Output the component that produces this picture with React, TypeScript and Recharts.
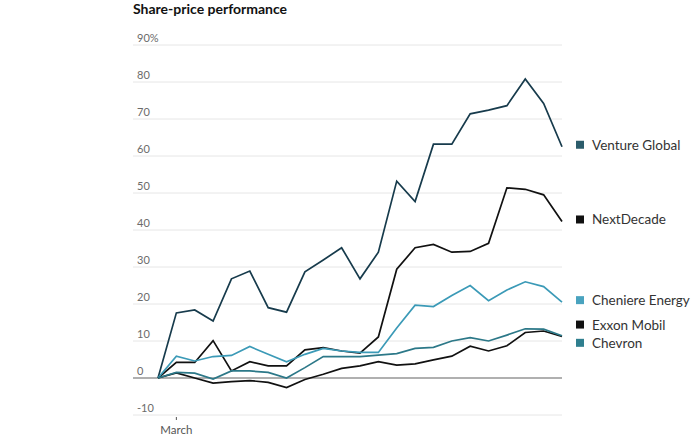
import React from 'react';
import { LineChart, Line, XAxis, YAxis, CartesianGrid, ReferenceLine } from 'recharts';

// weekly closes, % change since the first week
const weeks = [
  'Feb 28', 'Mar 7', 'Mar 14', 'Mar 21', 'Mar 28', 'Apr 4', 'Apr 11', 'Apr 18',
  'Apr 25', 'May 2', 'May 9', 'May 16', 'May 23', 'May 30', 'Jun 6', 'Jun 13',
  'Jun 20', 'Jun 27', 'Jul 4', 'Jul 11', 'Jul 18', 'Jul 25', 'Aug 1',
];

const ventureGlobal = [0, 17.6, 18.4, 15.4, 26.8, 28.9, 19, 17.8, 28.7, 31.9, 35.2, 26.8, 34, 53.2, 47.7, 63.2, 63.2, 71.4, 72.4, 73.6, 80.8, 74.2, 62.5];
const nextDecade = [0, 4.2, 4.2, 10.1, 1.9, 4.4, 3.3, 3.3, 7.6, 8.2, 7.3, 6.7, 11.1, 29.4, 35.2, 36.1, 34, 34.2, 36.4, 51.4, 51, 49.5, 42.3];
const cheniere = [0, 5.9, 4.6, 5.8, 6.1, 8.5, 6.4, 4.4, 6.4, 8, 7.3, 6.9, 6.9, 13.5, 19.7, 19.3, 22.3, 25, 20.9, 23.8, 26, 24.7, 20.5];
const exxon = [0, 1.4, 0, -1.4, -1, -0.7, -1.2, -2.6, -0.4, 1, 2.6, 3.3, 4.4, 3.5, 3.8, 4.9, 5.9, 8.6, 7.3, 8.7, 12.3, 12.7, 11.2];
const chevron = [0, 1.5, 1.3, -0.3, 1.9, 1.9, 1.5, 0, 2.8, 5.8, 5.8, 5.8, 6.2, 6.6, 8, 8.3, 10, 10.9, 10, 11.6, 13.3, 13.2, 11.4];

const yTicks = [-10, 0, 10, 20, 30, 40, 50, 60, 70, 80, 90];
const xTicks = ['Mar 7'];
const xTickLabels: Record<string, string> = { 'Mar 7': 'March' };

const series = [
  { key: 'ventureGlobal', name: 'Venture Global', color: '#173b4c', swatch: '#2b5c6b', dy: 0 },
  { key: 'nextDecade', name: 'NextDecade', color: '#111111', swatch: '#111111', dy: 0 },
  { key: 'cheniere', name: 'Cheniere Energy', color: '#3b9ab7', swatch: '#4aa3bf', dy: 0 },
  { key: 'exxon', name: 'Exxon Mobil', color: '#111111', swatch: '#111111', dy: -10 },
  { key: 'chevron', name: 'Chevron', color: '#2c7888', swatch: '#2f7f8f', dy: 9 },
];

const data = weeks.map((week, i) => ({
  week,
  ventureGlobal: ventureGlobal[i],
  nextDecade: nextDecade[i],
  cheniere: cheniere[i],
  exxon: exxon[i],
  chevron: chevron[i],
}));

const FONT = 'Lato, "Noto Sans", sans-serif';
const PLOT_LEFT = 133;

const YTick = (props: any) => {
  const { y, payload } = props;
  const label = payload.value === 90 ? '90%' : String(payload.value);
  return (
    <text x={PLOT_LEFT + 4} y={y - 3} fill="#6b6b6b" fontSize={11} fontFamily={FONT} textAnchor="start">
      {label}
    </text>
  );
};

const XTick = (props: any) => {
  const { x, y, payload } = props;
  return (
    <g>
      <line x1={x} x2={x} y1={y - 6} y2={y - 3} stroke="#555" strokeWidth={1} />
      <text x={x} y={y + 11} fill="#555" fontSize={11.5} fontFamily={FONT} textAnchor="middle">
        {xTickLabels[payload.value] ?? payload.value}
      </text>
    </g>
  );
};

const endLabel = (s: typeof series[number]) => (props: any) => {
  const { x, y, index } = props;
  if (index !== weeks.length - 1) return null;
  const cy = y + s.dy - 2;
  return (
    <g key={s.key}>
      <rect x={x + 14} y={cy - 4} width={8} height={8} fill={s.swatch} />
      <text x={x + 30} y={cy + 5} fontSize={13.5} fontFamily={FONT} fill="#333">
        {s.name}
      </text>
    </g>
  );
};

export default function App() {
  return (
    <div style={{ position: 'absolute', left: 0, top: 0, width: 700, height: 436, background: '#fff' }}>
      <div
        style={{
          position: 'absolute',
          left: PLOT_LEFT,
          top: 0,
          fontFamily: FONT,
          fontWeight: 700,
          fontSize: 14,
          color: '#111',
        }}
      >
        Share-price performance
      </div>
      <LineChart width={700} height={436} data={data} margin={{ top: 45, right: 138, bottom: 0, left: PLOT_LEFT - 30 }}>
        <CartesianGrid vertical={false} stroke="#e6e6e6" strokeWidth={1} />
        <XAxis
          dataKey="week"
          ticks={xTicks}
          tick={<XTick />}
          tickLine={false}
          axisLine={false}
          height={21}
          padding={{ left: 25, right: 0 }}
          interval={0}
        />
        <YAxis
          domain={[-10, 90]}
          ticks={yTicks}
          tick={<YTick />}
          axisLine={false}
          tickLine={false}
          width={30}
          interval={0}
        />
        <ReferenceLine y={0} stroke="#9a9a9a" strokeWidth={1.5} />
        {series.map((s) => (
          <Line
            key={s.key}
            dataKey={s.key}
            stroke={s.color}
            strokeWidth={1.7}
            dot={false}
            activeDot={false}
            type="linear"
            isAnimationActive={false}
            label={endLabel(s)}
          />
        ))}
      </LineChart>
    </div>
  );
}
